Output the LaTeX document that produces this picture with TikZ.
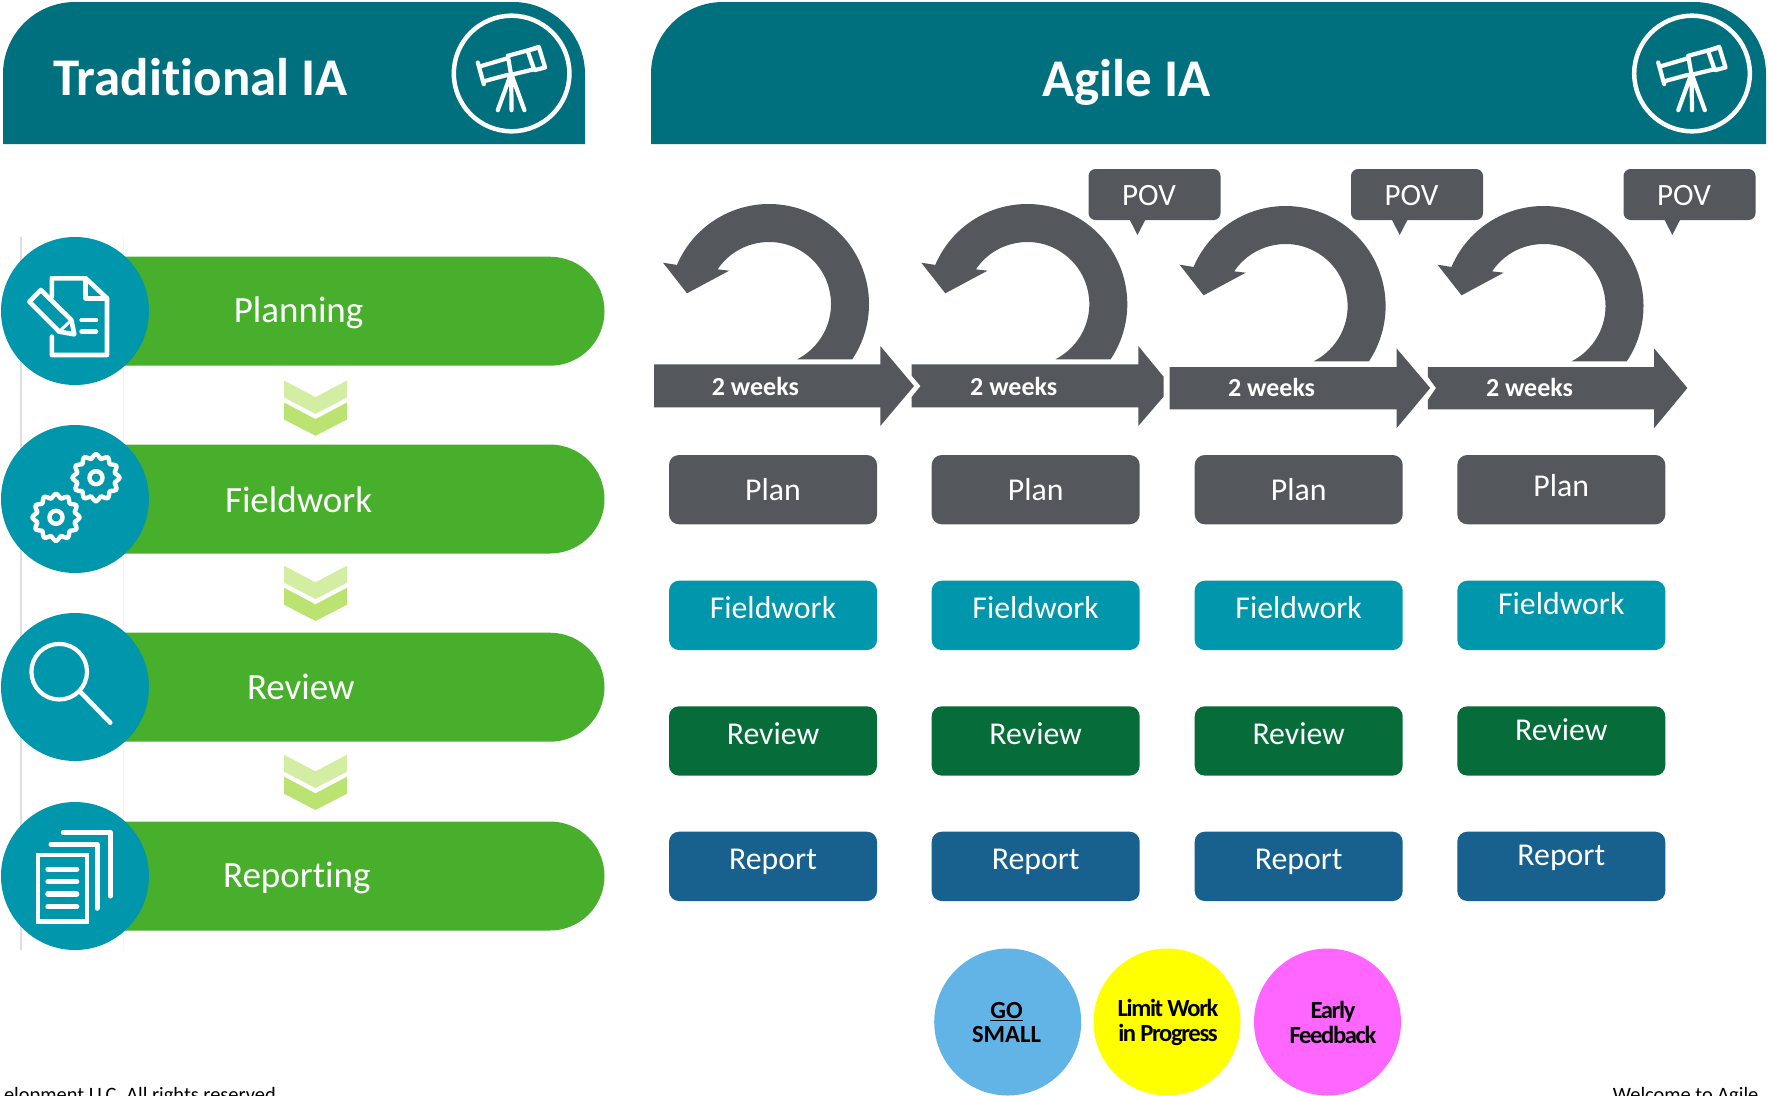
\documentclass[tikz,border=0pt]{standalone}
\usepackage{fontspec}
\setmainfont[Ligatures=NoCommon]{Carlito}
\definecolor{headc}{HTML}{00707F}
\definecolor{pillc}{HTML}{47AF2C}
\definecolor{tealc}{HTML}{0097AC}
\definecolor{inkc}{HTML}{54575C}
\definecolor{revc}{HTML}{066C3A}
\definecolor{repc}{HTML}{18608E}
\definecolor{chevA}{HTML}{D3EDA3}
\definecolor{chevB}{HTML}{BBE372}
\definecolor{goc}{HTML}{63B4E6}
\definecolor{magc}{HTML}{FF66FF}
\definecolor{yelc}{RGB}{255,255,0}
\tikzset{
  whitetxt/.style={text=white,inner sep=0pt,anchor=base},
  pilltxt/.style={whitetxt,font=\fontsize{37}{40}\selectfont},
  headtxt/.style={whitetxt,font=\fontsize{53}{60}\selectfont\bfseries},
  povtxt/.style={whitetxt,font=\fontsize{31}{34}\selectfont},
  weektxt/.style={whitetxt,font=\fontsize{26}{30}\selectfont\bfseries},
  foot/.style={inner sep=0pt,anchor=base,text=black,font=\fontsize{20.4}{24}\selectfont},
  badge/.style={circle,inner sep=0pt,outer sep=0pt,minimum size=147pt},
  phase/.style={circle,fill=tealc,inner sep=0pt,outer sep=0pt,minimum size=148pt},
  badgetxt/.style={inner sep=0pt,align=center,text=black,font=\fontsize{24.6}{24.3}\selectfont\bfseries\addfontfeatures{LetterSpace=-5.5}},
  gotxtstyle/.style={inner sep=0pt,align=center,text=black,font=\fontsize{24.6}{24.3}\selectfont\bfseries},
  icon/.style={draw=white,line width=4.6pt,line join=round,line cap=round},
  sprintbox/.style={anchor=north west,rounded corners=10pt,inner sep=0pt,outer sep=0pt,text width=208pt,align=center,text=white,font=\fontsize{31.8}{34}\selectfont}
}
\newcommand{\telescopeicon}[2]{%
  \begin{scope}[shift={(#1,#2)}]
    \draw[white,line width=4.5pt] (0,0) circle[radius=57.8];
    \draw[icon,line width=4.2pt] (-33.8,-11) -- (-27.8,10.7);
    \draw[icon,line width=4.2pt] (-32,-7) -- (-3.8,-15.3) (-26,7.3) -- (-3.8,1.3);
    \draw[icon,line width=4.2pt] (-3.8,-17.7) -- (24.5,-25.3) (-3.8,-17.7) -- (-0.5,1.3) -- (22.8,-4.3);
    \draw[icon,line width=4.2pt] (16,-22.7) -- (27.2,-26.7) -- (33.5,-6) -- (22.8,-3.3) -- cycle;
    \draw[icon,line width=4.2pt] (-0.5,0) -- (-13.8,36.7) (-0.5,0) -- (0,36.7) (-0.5,0) -- (12.8,36.7);
  \end{scope}}
\newcommand{\pillshape}[2]{%
  \fill[pillc] (100,#1) -- (550,#1) arc[start angle=-90,end angle=90,radius=54.5] -- (100,#2) -- cycle;}
\newcommand{\chevronpair}[1]{%
  \begin{scope}[shift={(315.5,#1)}]
    \fill[chevA] (-31.5,0) -- (0,16.6) -- (31.5,0) -- (31.5,17) -- (0,33.3) -- (-31.5,17) -- cycle;
    \fill[chevB] (-31.5,22) -- (0,38.6) -- (31.5,22) -- (31.5,39) -- (0,55.3) -- (-31.5,39) -- cycle;
  \end{scope}}
\newcommand{\swirl}[2]{%
  \begin{scope}[shift={(#1,#2)}]
    \fill[inkc] (33.6:100) arc[start angle=33.6,end angle=-157,radius=100]
      -- (-106,-41.3) -- (-82,-10.7) -- (-39.8,-33.3) -- (-146:62)
      arc[start angle=-146,end angle=63,radius=62] -- cycle;
  \end{scope}}
\newcommand{\povbubble}[3]{%
  \begin{scope}[shift={(#1,0)}]
    \fill[inkc,rounded corners=7pt] (0,169) rectangle (132,220);
    \fill[inkc] (#2-8.2,219) -- (#2,235) -- (#2+8.2,219) -- cycle;
  \end{scope}}
\newcommand{\gearicon}[2]{%
  \begin{scope}[shift={(#1,#2)}]
    \draw[icon,line width=4.4pt] plot[smooth cycle,samples=48,domain=0:352.5,variable=\t]
      ({(21.5+2.2*cos(12*\t))*cos(\t)},{(21.5+2.2*cos(12*\t))*sin(\t)});
    \draw[white,line width=4.4pt] (0,0) circle[radius=6.5];
  \end{scope}}
\begin{document}
\begin{tikzpicture}[x=1pt,y=-1pt]
\useasboundingbox (0,0) rectangle (1768,1095);
\clip (0,0) rectangle (1768,1095);
% headers
\fill[headc] (3,144) -- (3,74) arc[start angle=180,end angle=270,radius=72] -- (513,2) arc[start angle=-90,end angle=0,radius=72] -- (585,144) -- cycle;
\fill[headc] (651,144) -- (651,74) arc[start angle=180,end angle=270,radius=72] -- (1694,2) arc[start angle=-90,end angle=0,radius=72] -- (1766,144) -- cycle;
\node[headtxt] (tradtitle) at (200.5,95) {Traditional IA};
\node[headtxt] (agiletitle) at (1126.3,96) {Agile IA};
\telescopeicon{511.6}{73.5}
\telescopeicon{1692}{73.5}
% faint guide lines
\draw[color=black!13,line width=1.5pt] (20.8,237) -- (20.8,950);
\draw[color=black!4,line width=1pt] (123,237) -- (123,950);
% traditional pills
\pillshape{256.7}{365.7}
\pillshape{444.5}{553.5}
\pillshape{632.7}{741.7}
\pillshape{821.5}{930.5}
\chevronpair{380.5}
\chevronpair{565.7}
\chevronpair{754.7}
\node[phase] (c1) at (75,311) {};
\node[phase] (c2) at (75,499) {};
\node[phase] (c3) at (75,687) {};
\node[phase] (c4) at (75,876) {};
\node[pilltxt] (t1) at (298.6,322.7) {Planning};
\node[pilltxt] (t2) at (298.6,512) {Fieldwork};
\node[pilltxt] (t3) at (300.8,699.5) {Review};
\node[pilltxt] (t4) at (296.8,887.7) {Reporting};
% document icon
\draw[icon] (51.8,296.7) -- (51.8,278.3) -- (85.7,278.3) -- (107,298.3) -- (107,355) -- (51.8,355) -- (51.8,336.7);
\draw[icon] (85.7,278.3) -- (85.7,298.3) -- (107,298.3);
\draw[icon] (81.6,320) -- (96,320) (81.6,331.7) -- (96,331.7);
\draw[icon] (29.4,301.7) -- (40.8,290) -- (71.4,320) -- (74.3,334.3) -- (59.2,331.7) -- cycle;
\draw[icon,line width=3pt] (71.4,320) -- (59.2,331.7);
% gear icons
\gearicon{96}{477.7}
\gearicon{56}{517.3}
% magnifier
\draw[white,line width=4.2pt] (59.2,671.7) circle[radius=27.8];
\draw[icon] (81,692.5) -- (110.2,722.7);
% stack of pages
\draw[icon,line cap=butt,line join=miter] (38,855) rectangle (87,921.7);
\draw[icon,line width=5.4pt] (48,869.3) -- (76.7,869.3) (48,881.7) -- (76.7,881.7) (48,894) -- (76.7,894) (48,906.7) -- (76.7,906.7);
\draw[icon,line width=5pt] (51,844.3) -- (97,844.3) -- (97,908.3);
\draw[icon,line width=5pt] (63.3,832.3) -- (110.2,832.3) -- (110.2,896);
% agile loop arrows
\swirl{769}{304}
\swirl{1027.3}{304}
\swirl{1285.6}{306}
\swirl{1543.5}{306}
% timeline arrows
\fill[inkc] (654,364.3) -- (880.3,364.3) -- (880.3,346) -- (914,386) -- (880.3,426) -- (880.3,407.3) -- (654,407.3) -- cycle;
\fill[inkc] (911.7,364.3) -- (1138.3,364.3) -- (1138.3,346) -- (1163.5,376.7) -- (1163.5,396.7) -- (1138.3,426) -- (1138.3,407.3) -- (911.7,407.3) -- (911.7,397) -- (920.5,386) -- (911.7,375.7) -- cycle;
\fill[inkc] (1169.5,367) -- (1396.5,367) -- (1396.5,348.3) -- (1430.2,388) -- (1396.5,428.3) -- (1396.5,409.3) -- (1169.5,409.3) -- cycle;
\fill[inkc] (1427.8,367) -- (1654,367) -- (1654,348.3) -- (1687.4,388) -- (1654,428.3) -- (1654,409.3) -- (1427.8,409.3) -- (1427.8,400) -- (1436,388) -- (1427.8,376.7) -- cycle;
\node[weektxt] (w1) at (755.4,395) {2 weeks};
\node[weektxt] (w2) at (1013.7,395) {2 weeks};
\node[weektxt] (w3) at (1271.6,396.7) {2 weeks};
\node[weektxt] (w4) at (1529.5,396.7) {2 weeks};
% POV bubbles
\povbubble{1088.5}{49}{}
\povbubble{1351}{48.7}{}
\povbubble{1623.5}{48.8}{}
\node[povtxt] (p1) at (1149,205) {POV};
\node[povtxt] (p2) at (1411.5,205) {POV};
\node[povtxt] (p3) at (1684,205) {POV};
% sprint boxes
\foreach \i/\x/\d in {1/669/0,2/931.7/0,3/1194.7/0,4/1457.3/4}{
  \pgfmathsetmacro{\hA}{45-\d}\pgfmathsetmacro{\dA}{69.3-\hA}
  \pgfmathsetmacro{\hB}{38-\d}\pgfmathsetmacro{\dB}{69.3-\hB}
  \node[sprintbox,fill=inkc,text height=\hA pt,text depth=\dA pt] (plan\i) at (\x,455) {Plan};
  \node[sprintbox,fill=tealc,text height=\hB pt,text depth=\dB pt] (field\i) at (\x,580.7) {Fieldwork};
  \node[sprintbox,fill=revc,text height=\hB pt,text depth=\dB pt] (rev\i) at (\x,706.3) {Review};
  \node[sprintbox,fill=repc,text height=\hB pt,text depth=\dB pt] (rep\i) at (\x,831.7) {Report};
}
% badges
\node[badge,fill=goc] (go) at (1007.7,1022) {};
\node[badge,fill=yelc] (wip) at (1167,1022) {};
\node[badge,fill=magc] (early) at (1327.5,1022) {};
\node[gotxtstyle] (gotxt) at (1006.5,1022.3) {\underline{GO}\\SMALL};
\node[badgetxt] (wiptxt) at (1168,1022.3) {Limit Work\\in Progress};
\node[badgetxt] (earlytxt) at (1333,1022.3) {Early\\Feedback};
% footer
\node[foot,anchor=base east] (footl) at (276,1101.7) {elopment LLC. All rights reserved};
\node[foot,anchor=base west] (footr) at (1612.7,1101.7) {Welcome to Agile};
\end{tikzpicture}
\end{document}
